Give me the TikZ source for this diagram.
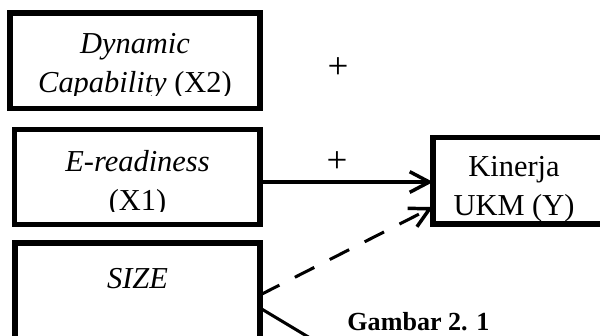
\documentclass[tikz,border=0pt]{standalone}
\usepackage{fontspec}
\setmainfont{Liberation Serif}
\usetikzlibrary{arrows.meta, calc, positioning, fit}

\begin{document}
\begin{tikzpicture}[x=0.46pt, y=-0.46pt]
        \useasboundingbox (0,0) rectangle (600,335);
        \clip (0,0) rectangle (600,335);

        \tikzstyle{v} = [draw, line width=2.7pt, inner sep=0pt, outer sep=0pt];
        \tikzstyle{l} = [font=\fontsize{14}{17.5}\selectfont, align=center, inner sep=0pt];
        \tikzstyle{a} = [line width=1.4pt, -{Straight Barb[length=9pt, width=9.5pt, line width=1.6pt]}];

        % corners of the variable boxes
        \coordinate (X2a) at (10, 13);
        \coordinate (X2b) at (260, 108.5);
        \coordinate (X1a) at (14.5, 129.5);
        \coordinate (X1b) at (260, 224.5);
        \coordinate (Sa) at (15, 243);
        \coordinate (Sb) at (260, 400);
        \coordinate (Ya) at (433, 137.5);
        \coordinate (Yb) at (640, 224);

        \node [v, fit=(X2a)(X2b)] (X2) { };
        \node [v, fit=(X1a)(X1b)] (X1) { };
        \node [v, fit=(Sa)(Sb)] (S) { };
        \node [v, fit=(Ya)(Yb)] (Y) { };

        % labels, cut off by their text boxes (base = last line)
        \begin{scope}
            \clip (X2a) rectangle (260, 95);
            \node [l, anchor=base] (X2t) at (135, 92) {\textit{Dynamic}\\\textit{Capability} (X2)};
        \end{scope}
        \begin{scope}
            \clip (X1a) rectangle (260, 211);
            \node [l, anchor=base] (X1t) at (137.5, 210) {\textit{E-readiness}\\(X1)};
        \end{scope}
        \node [l, anchor=base] (St) at (137.5, 288) {\textit{SIZE}};
        \node [l, anchor=base] (Yt) at (514, 215) {Kinerja\\UKM (Y)};

        \node [l, font=\fontsize{17}{20}\selectfont] (p2) at (338, 68) {+};
        \node [l, font=\fontsize{17}{20}\selectfont] (p1) at (337, 162) {+};

        \coordinate (out) at (360, 368);

        \draw [a] (X1.east |- 0, 182) -- (Y.west |- 0, 182);
        \draw [a, dashed, dash pattern=on 10pt off 8pt] ($(S.north east) + (0, 52)$) -- ($(Y.south west) + (0, -17)$);
        \draw [line width=1.4pt] ($(S.north east) + (0, 65)$) -- (out);

        \node [anchor=base west, inner sep=0pt, font=\bfseries\fontsize{12}{14}\selectfont] (fig) at (347, 330) {Gambar 2. 1};
    \end{tikzpicture}
\end{document}
